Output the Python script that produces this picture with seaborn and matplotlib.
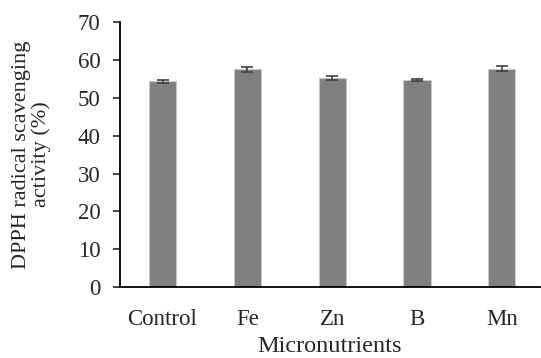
import numpy as np
import pandas as pd
import matplotlib
matplotlib.use('Agg')
import matplotlib.pyplot as plt
import seaborn as sns

# values
treatments = ['Control', 'Fe', 'Zn', 'B', 'Mn']
dpph_mean = [54.4, 57.5, 55.2, 54.7, 57.7]
dpph_err = [0.4, 0.6, 0.5, 0.2, 0.6]

sns.set_style('white')
plt.rcParams['font.family'] = ['Liberation Serif', 'DejaVu Serif']

df = pd.DataFrame({'treatment': treatments, 'dpph': dpph_mean, 'err': dpph_err})

fig = plt.figure(figsize=(5.41, 3.58), dpi=100)
ax = fig.add_axes([0.222, 0.198, 0.776, 0.7405])

sns.barplot(data=df, x='treatment', y='dpph', color='#808080', width=0.32,
            edgecolor='#c8c8c8', linewidth=0.8, saturation=1, ax=ax, errorbar=None)
ax.errorbar(np.arange(len(treatments)), df['dpph'], yerr=df['err'], fmt='none',
            ecolor='#404040', elinewidth=1.2, capsize=4, capthick=1.2)

ax.set_ylim(0, 70)
ax.set_yticks(range(0, 71, 10))
ax.set_xlim(-0.5, 4.45)
ax.set_xlabel('Micronutrients', fontsize=17.5, labelpad=4)
ax.set_ylabel('DPPH radical scavenging\nactivity (%)', fontsize=16, linespacing=1.05, labelpad=19)
ax.tick_params(axis='y', labelsize=16.5, length=5, width=1.2, direction='out', left=True, pad=9)
ax.tick_params(axis='x', labelsize=16.5, length=0, pad=16)
for s in ['top', 'right']:
    ax.spines[s].set_visible(False)
for s in ['left', 'bottom']:
    ax.spines[s].set_color('black')
    ax.spines[s].set_linewidth(1.3)

fig.savefig('out.png', dpi=100)
